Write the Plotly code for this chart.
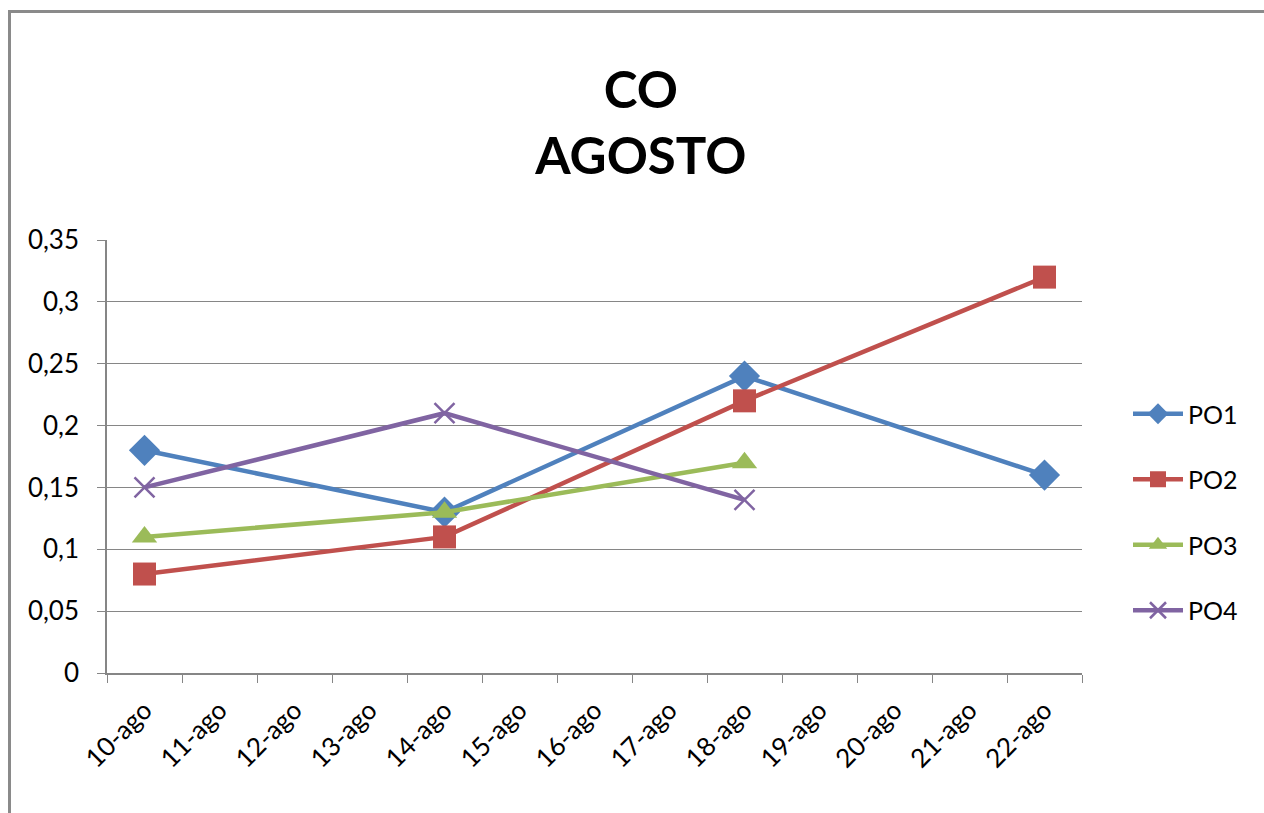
import plotly.graph_objects as go

# Categories (days of August) and CO readings per sampling point
dias = ["10-ago", "11-ago", "12-ago", "13-ago", "14-ago", "15-ago", "16-ago",
        "17-ago", "18-ago", "19-ago", "20-ago", "21-ago", "22-ago"]

po1_dias = ["10-ago", "14-ago", "18-ago", "22-ago"]
po1_vals = [0.18, 0.13, 0.24, 0.16]

po2_dias = ["10-ago", "14-ago", "18-ago", "22-ago"]
po2_vals = [0.08, 0.11, 0.22, 0.32]

po3_dias = ["10-ago", "14-ago", "18-ago"]
po3_vals = [0.11, 0.13, 0.17]

po4_dias = ["10-ago", "14-ago", "18-ago"]
po4_vals = [0.15, 0.21, 0.14]

W, H = 1264, 813
L, R, T, B = 107, 182, 240, 140
PW, PH = W - L - R, H - T - B

FONT = "Lato"

fig = go.Figure()

series = [
    ("PO1", po1_dias, po1_vals, "#4F81BD", dict(symbol="diamond", size=24)),
    ("PO2", po2_dias, po2_vals, "#C0504D", dict(symbol="square", size=23)),
    ("PO3", po3_dias, po3_vals, "#9BBB59", dict(symbol="triangle-up", size=22)),
    ("PO4", po4_dias, po4_vals, "#8064A2",
     dict(symbol="x-thin-open", size=20, line=dict(width=2.5, color="#8064A2"))),
]

for name, xs, ys, color, mk in series:
    marker = dict(color=color, **mk)
    if "line" not in marker:
        marker["line"] = dict(width=0)
    fig.add_trace(go.Scatter(
        x=xs, y=ys, name=name, mode="lines+markers",
        line=dict(color=color, width=4.5),
        marker=marker,
        legendgroup=name,
    ))


def px_x(px):
    return (px - L) / PW


def px_y(py):
    return (H - B - py) / PH


# Chart frame (gray border along the top and left edges)
frame = dict(type="line", xref="paper", yref="paper",
             line=dict(color="#8A8A8A", width=3))
fig.add_shape(**frame, x0=px_x(8.5), x1=px_x(W + 5), y0=px_y(11.5), y1=px_y(11.5))
fig.add_shape(**frame, x0=px_x(9.5), x1=px_x(9.5), y0=px_y(10), y1=px_y(H + 5))

fig.update_layout(
    width=W, height=H,
    margin=dict(l=L, r=R, t=T, b=B),
    paper_bgcolor="white", plot_bgcolor="white",
    separators=",.",
    font=dict(family=FONT, color="#000000"),
    title=dict(
        text="<b>CO<br>AGOSTO</b>",
        x=0.507, xanchor="center", xref="container",
        y=1 - 108 / H, yanchor="middle", yref="container",
        font=dict(family=FONT, size=51, color="#000000"),
    ),
    showlegend=True,
    legend=dict(
        x=px_x(1128), xanchor="left",
        y=px_y(391), yanchor="top",
        font=dict(family=FONT, size=25, color="#000000"),
        tracegroupgap=30,
        itemwidth=50,
        bgcolor="rgba(0,0,0,0)",
    ),
    xaxis=dict(
        type="category",
        categoryorder="array", categoryarray=dias,
        tickvals=dias,
        range=[-0.5, len(dias) - 0.5],
        tickson="boundaries",
        ticks="outside", ticklen=8, tickcolor="#868686", tickwidth=1,
        showline=True, linecolor="#868686", linewidth=1.5,
        showgrid=False,
        tickangle=-45,
        ticklabelstandoff=10,
        tickfont=dict(family=FONT, size=26, color="#000000"),
        fixedrange=True,
    ),
    yaxis=dict(
        range=[0, 0.35], dtick=0.05, tick0=0,
        ticks="outside", ticklen=8, tickcolor="#868686", tickwidth=1,
        showline=True, linecolor="#868686", linewidth=1.5,
        showgrid=True, gridcolor="#868686", gridwidth=1,
        zeroline=False,
        ticklabelstandoff=13,
        tickfont=dict(family=FONT, size=26, color="#000000"),
        fixedrange=True,
    ),
)

fig.write_html("out.html")
